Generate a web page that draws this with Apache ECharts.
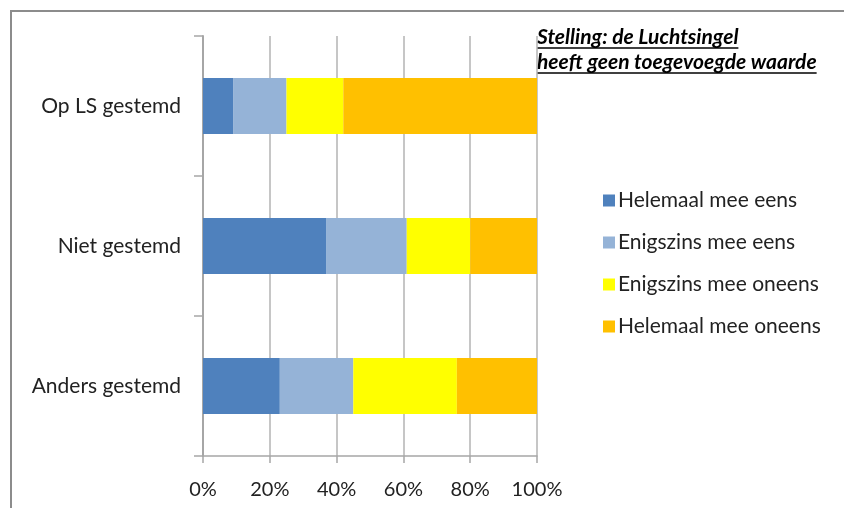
<!DOCTYPE html>
<html>
<head>
<meta charset="utf-8">
<script src="https://cdn.jsdelivr.net/npm/echarts@6/dist/echarts.min.js"></script>
<style>
  html, body { margin: 0; padding: 0; background: #fff; }
  #chart { width: 844px; height: 508px; }
</style>
</head>
<body>
<div id="chart"></div>
<script>
// Groups shown on the vertical axis (top to bottom)
const categories = ['Op LS gestemd', 'Niet gestemd', 'Anders gestemd'];

// Answer shares (%) per group, in category order
const helemaalEens   = [9, 37, 23];
const enigszinsEens  = [16, 24, 22];
const enigszinsOneens = [17, 19, 31];
const helemaalOneens = [58, 20, 24];

const seriesNames = ['Helemaal mee eens', 'Enigszins mee eens', 'Enigszins mee oneens', 'Helemaal mee oneens'];
const seriesColors = ['#4F81BD', '#95B3D7', '#FFFF00', '#FFC000'];
const seriesValues = [helemaalEens, enigszinsEens, enigszinsOneens, helemaalOneens];

const titleLines = ['Stelling: de Luchtsingel', 'heeft geen toegevoegde waarde'];

const FONT = 'Lato, "Open Sans", sans-serif';
const chart = echarts.init(document.getElementById('chart'), null, { renderer: 'canvas' });

// Measure title text so the underline spans each line exactly
const ctx = document.createElement('canvas').getContext('2d');
const titleFont = 'italic bold 21px ' + FONT;
ctx.font = titleFont;
const titleX = 537, titleY = [38, 63];
const titleGraphics = [];
titleLines.forEach((line, i) => {
  const w = ctx.measureText(line).width;
  titleGraphics.push({
    type: 'text', left: titleX, top: titleY[i] - 11,
    style: { text: line, font: titleFont, fill: '#000' }
  });
  titleGraphics.push({
    type: 'line',
    shape: { x1: titleX, y1: titleY[i] + 10, x2: titleX + w, y2: titleY[i] + 10 },
    style: { stroke: '#000', lineWidth: 1.5 }
  });
});

const option = {
  animation: false,
  backgroundColor: '#fff',
  grid: { left: 203, right: 307, top: 36, bottom: 52, containLabel: false },
  legend: {
    orient: 'vertical',
    left: 598, top: 185,
    itemWidth: 12, itemHeight: 12, itemGap: 21,
    icon: 'rect',
    textStyle: { fontFamily: FONT, fontSize: 21, color: '#222', padding: [0, 0, 0, -2] },
    data: seriesNames
  },
  xAxis: {
    type: 'value', min: 0, max: 100, interval: 20,
    axisLine: { show: true, lineStyle: { color: '#a6a6a6', width: 1.5 } },
    axisTick: { show: true, length: 7, lineStyle: { color: '#a6a6a6', width: 1.5 } },
    splitLine: { show: true, lineStyle: { color: '#b3b3b3', width: 1.5 } },
    axisLabel: { formatter: '{value}%', fontFamily: FONT, fontSize: 20, color: '#222', margin: 24 }
  },
  yAxis: {
    type: 'category', data: categories, inverse: true,
    axisLine: { show: true, lineStyle: { color: '#a6a6a6', width: 2 } },
    axisTick: { show: true, length: 9, lineStyle: { color: '#a6a6a6', width: 1.5 } },
    axisLabel: { fontFamily: FONT, fontSize: 21, color: '#222', margin: 22 }
  },
  series: seriesNames.map((name, i) => ({
    name, type: 'bar', stack: 'total', barWidth: 56,
    itemStyle: { color: seriesColors[i] },
    data: seriesValues[i]
  })),
  graphic: [
    {
      type: 'polyline',
      shape: { points: [[11, 508], [11, 11], [844, 11]] },
      style: { stroke: '#8c8c8c', lineWidth: 2, fill: 'none' }
    }
  ].concat(titleGraphics)
};

chart.setOption(option);
</script>
</body>
</html>
